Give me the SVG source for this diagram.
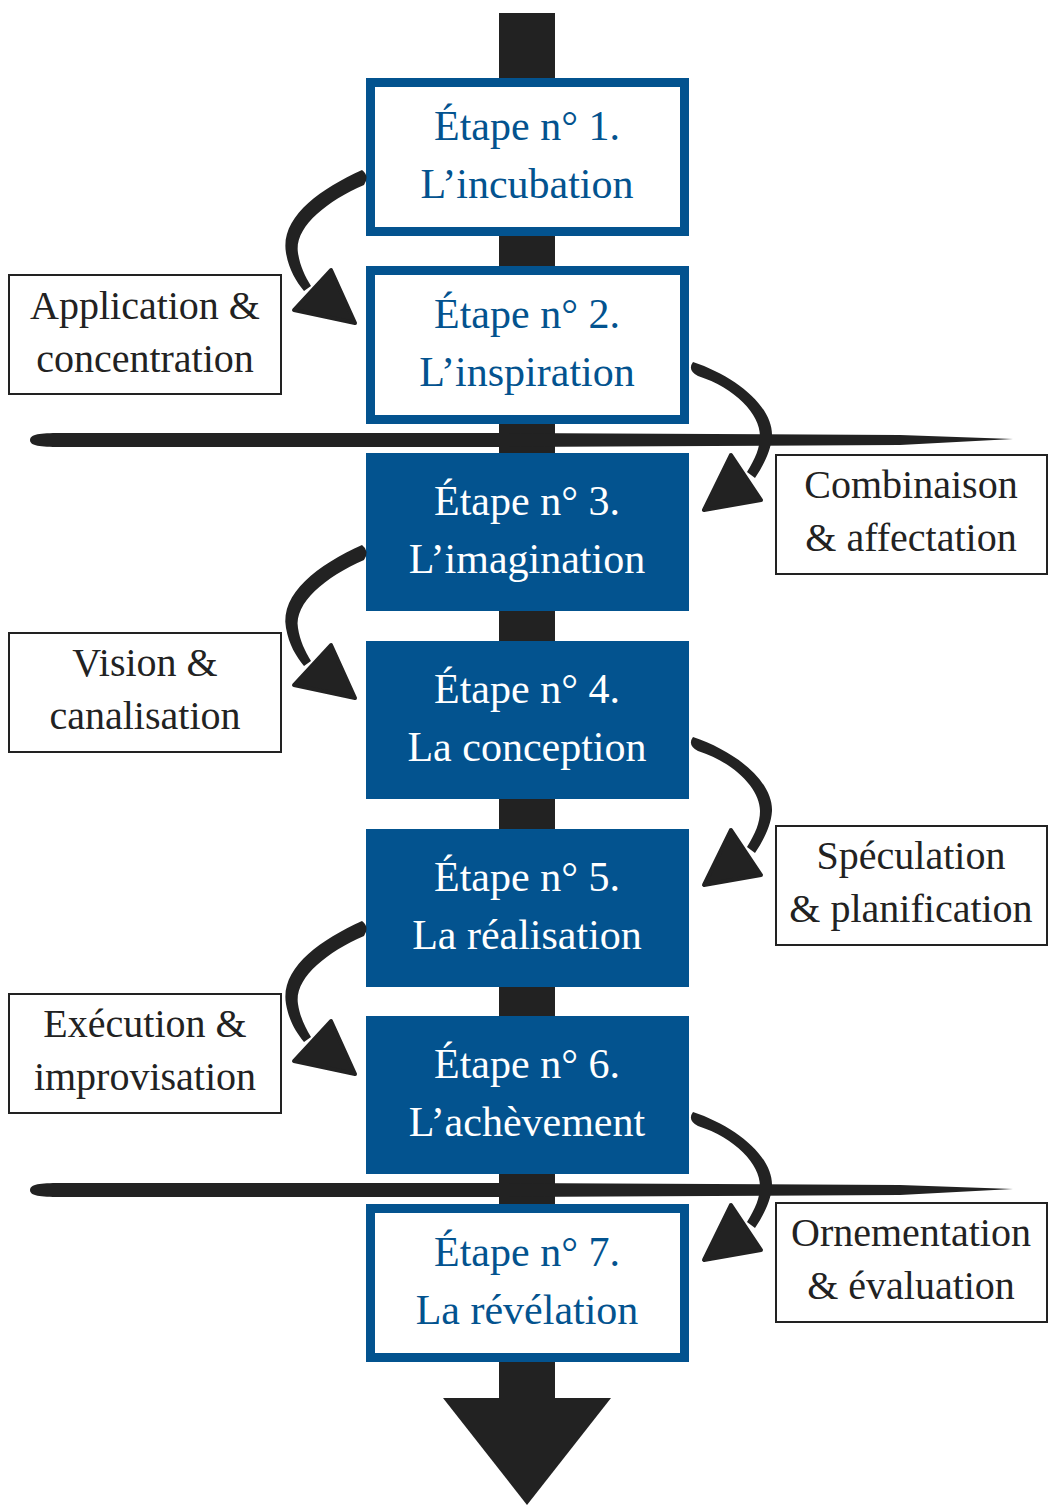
<svg xmlns="http://www.w3.org/2000/svg" width="1048" height="1506" viewBox="0 0 1048 1506">
<defs>
<style>
.ob{fill:#ffffff;stroke:#03538f;stroke-width:9}
.fb{fill:#03538f}
.bt{font-family:"Liberation Serif","DejaVu Serif",serif;font-size:42px;text-anchor:middle;fill:#03538f}
.fb-t{fill:#ffffff}
.lb{fill:#ffffff;stroke:#222222;stroke-width:2}
.lt{font-family:"Liberation Serif","DejaVu Serif",serif;font-size:40px;text-anchor:middle;fill:#222222}
.ink{fill:#222222}
.head{fill:#222222;stroke:#222222;stroke-width:4;stroke-linejoin:round}
</style>
<g id="leftArrow">
<path class="ink" d="M362,92 C318,112 280,140 286,175 C289,192 296,203 304,213 L311,208 C305,198 300,188 298,175 C294,150 325,124 364,107 Q370,98 362,92 Z"/>
<polygon class="head" points="294,232 355,245 331,192"/>
</g>
<g id="rightArrow">
<path class="ink" d="M693,96 C735,110 773,140 772,170 C771,185 764,198 755,212 L747,206 C755,193 760,182 760,170 C760,148 735,122 698,110 Q687,104 693,96 Z"/>
<polygon class="head" points="704,244 761,234 731,189"/>
</g>
</defs>

<g id="spine">
<rect class="ink" x="499" y="13" width="56" height="1386"/>
<polygon class="ink" points="443,1398 611,1398 527,1505"/>
</g>

<g id="dividers">
<path class="ink" d="M30,440 C30,434 40,433 60,433 L500,433 L900,435 L1013,439 L900,445 L500,447 L60,447 C40,447 30,446 30,440 Z"/>
<path class="ink" d="M30,1190 C30,1184 40,1183 60,1183 L500,1183 L900,1185 L1013,1189 L900,1195 L500,1197 L60,1197 C40,1197 30,1196 30,1190 Z"/>
</g>

<g id="step1">
<rect class="ob" x="370.5" y="82.5" width="314" height="149"/>
<text class="bt" x="527" y="140">Étape n° 1.</text>
<text class="bt" x="527" y="198">L’incubation</text>
</g>
<g id="step2">
<rect class="ob" x="370.5" y="270.5" width="314" height="149"/>
<text class="bt" x="527" y="328">Étape n° 2.</text>
<text class="bt" x="527" y="386">L’inspiration</text>
</g>
<g id="step3">
<rect class="fb" x="366" y="453" width="323" height="158"/>
<text class="bt fb-t" x="527" y="515">Étape n° 3.</text>
<text class="bt fb-t" x="527" y="573">L’imagination</text>
</g>
<g id="step4">
<rect class="fb" x="366" y="641" width="323" height="158"/>
<text class="bt fb-t" x="527" y="703">Étape n° 4.</text>
<text class="bt fb-t" x="527" y="761">La conception</text>
</g>
<g id="step5">
<rect class="fb" x="366" y="829" width="323" height="158"/>
<text class="bt fb-t" x="527" y="891">Étape n° 5.</text>
<text class="bt fb-t" x="527" y="949">La réalisation</text>
</g>
<g id="step6">
<rect class="fb" x="366" y="1016" width="323" height="158"/>
<text class="bt fb-t" x="527" y="1078">Étape n° 6.</text>
<text class="bt fb-t" x="527" y="1136">L’achèvement</text>
</g>
<g id="step7">
<rect class="ob" x="370.5" y="1208.5" width="314" height="149"/>
<text class="bt" x="527" y="1266">Étape n° 7.</text>
<text class="bt" x="527" y="1324">La révélation</text>
</g>

<g id="label-application">
<rect class="lb" x="9" y="275" width="272" height="119"/>
<text class="lt" x="145" y="319">Application &amp;</text>
<text class="lt" x="145" y="372">concentration</text>
</g>
<g id="label-combinaison">
<rect class="lb" x="776" y="455" width="271" height="119"/>
<text class="lt" x="911" y="498">Combinaison</text>
<text class="lt" x="911" y="551">&amp; affectation</text>
</g>
<g id="label-vision">
<rect class="lb" x="9" y="633" width="272" height="119"/>
<text class="lt" x="145" y="676">Vision &amp;</text>
<text class="lt" x="145" y="729">canalisation</text>
</g>
<g id="label-speculation">
<rect class="lb" x="776" y="826" width="271" height="119"/>
<text class="lt" x="911" y="869">Spéculation</text>
<text class="lt" x="911" y="922">&amp; planification</text>
</g>
<g id="label-execution">
<rect class="lb" x="9" y="994" width="272" height="119"/>
<text class="lt" x="145" y="1037">Exécution &amp;</text>
<text class="lt" x="145" y="1090">improvisation</text>
</g>
<g id="label-ornementation">
<rect class="lb" x="776" y="1203" width="271" height="119"/>
<text class="lt" x="911" y="1246">Ornementation</text>
<text class="lt" x="911" y="1299">&amp; évaluation</text>
</g>

<g id="connectors">
<use href="#leftArrow" x="0" y="78"/>
<use href="#rightArrow" x="0" y="266"/>
<use href="#leftArrow" x="0" y="453"/>
<use href="#rightArrow" x="0" y="641"/>
<use href="#leftArrow" x="0" y="829"/>
<use href="#rightArrow" x="0" y="1016"/>
</g>
</svg>
